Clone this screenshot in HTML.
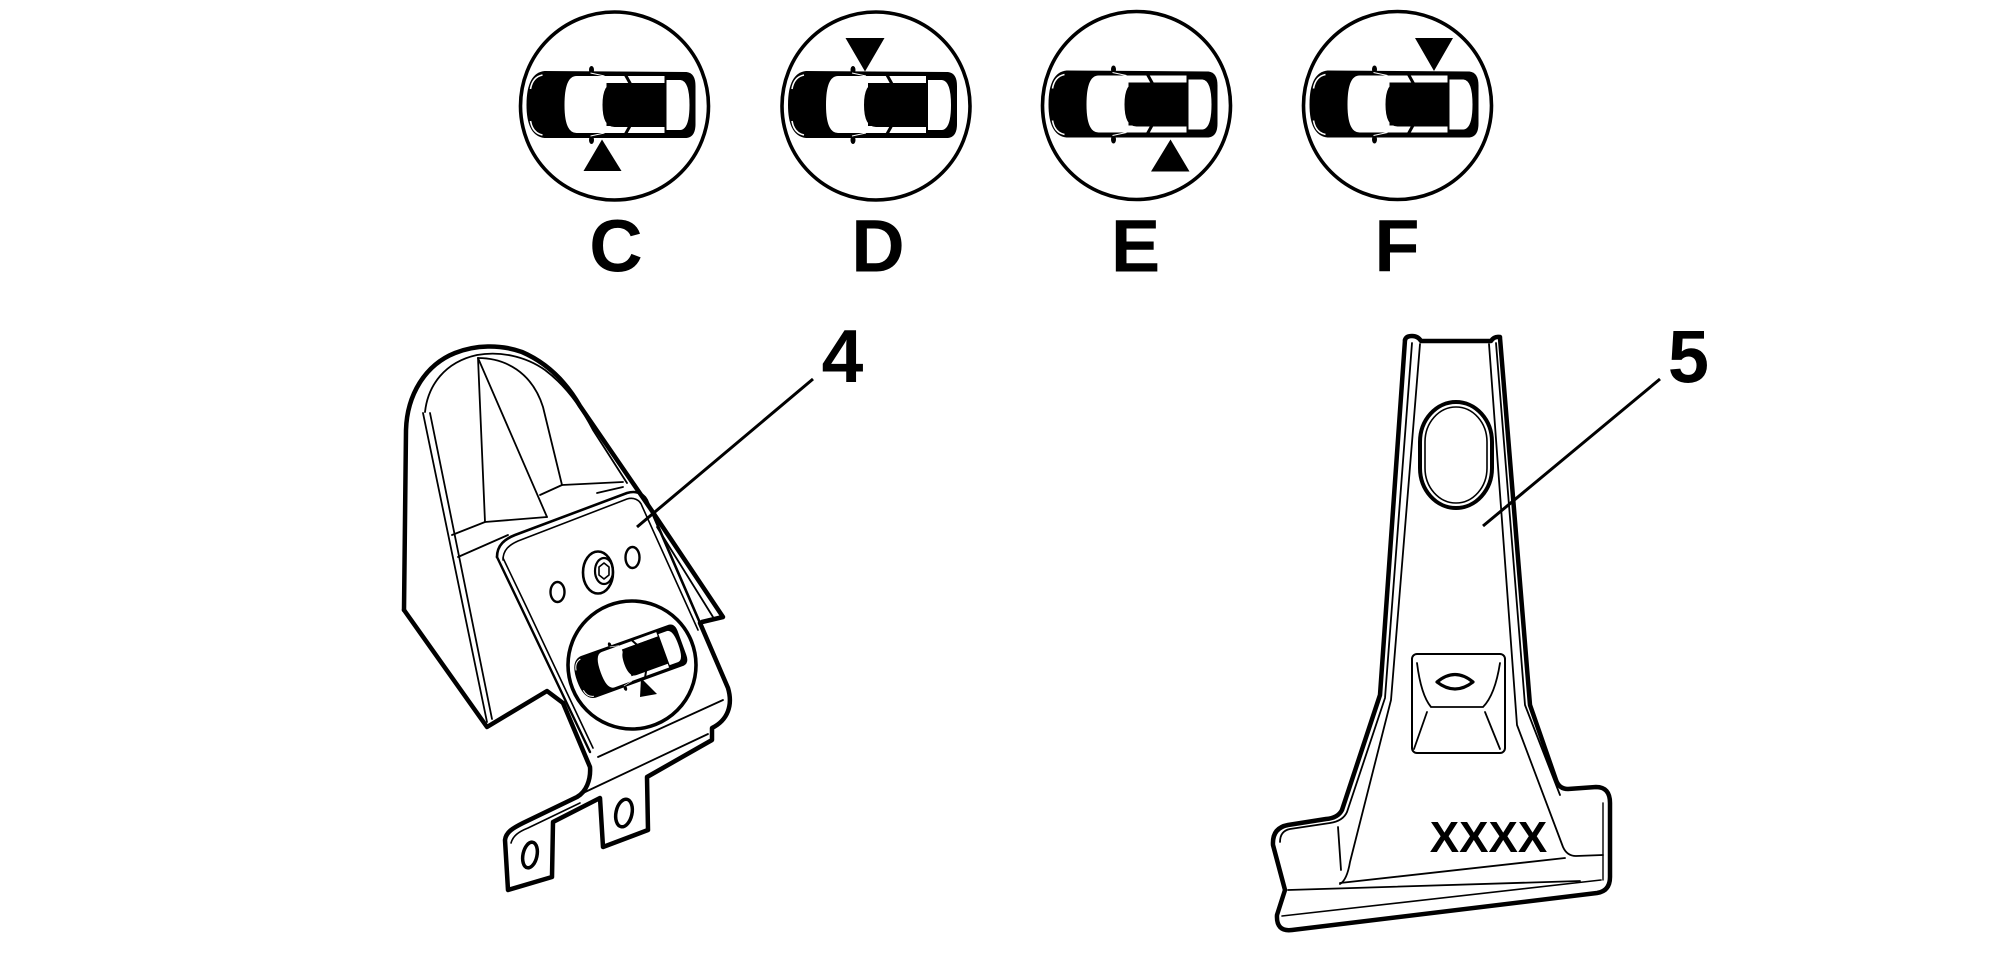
<!DOCTYPE html>
<html>
<head>
<meta charset="utf-8">
<style>
  html, body { margin:0; padding:0; background:#fff; }
  svg { display:block; }
  .lbl { font-family: "Liberation Sans", Arial, sans-serif; font-weight: bold; fill:#000; }
</style>
</head>
<body>
<svg width="2008" height="969" viewBox="0 0 2008 969" xmlns="http://www.w3.org/2000/svg">
  <rect x="0" y="0" width="2008" height="969" fill="#fff"/>
  <defs>
    <g id="car">
      <!-- body -->
      <path d="M -70,-35 L 72,-34 Q 81,-33 81,-20 L 81,18 Q 81,31 72,32 L -70,32 Q -88,30 -88,-1 Q -88,-33 -70,-35 Z" fill="#000"/>
      <!-- headlight highlights -->
      <path d="M -84,-17 Q -82,-29 -72,-31" fill="none" stroke="#fff" stroke-width="1.6"/>
      <path d="M -84,15 Q -82,27 -72,29" fill="none" stroke="#fff" stroke-width="1.6"/>
      <!-- windshield + side windows -->
      <path d="M -38,-30 L 50,-30 L 50,-23 L -8,-23 L -8,20 L 50,20 L 50,27 L -38,27 Q -50,27 -50,-1 Q -50,-30 -38,-30 Z" fill="#fff"/>
      <!-- roof -->
      <path d="M 0,-23 L 54,-23 L 54,21 L 0,21 Q -12,21 -12,-1 Q -12,-23 0,-23 Z" fill="#000"/>
      <!-- B pillars -->
      <path d="M 11,-31 L 16,-22" stroke="#000" stroke-width="3"/>
      <path d="M 11,28 L 16,19" stroke="#000" stroke-width="3"/>
      <!-- rear window -->
      <path d="M 52,-26 L 66,-26 Q 75,-25 75,-1 Q 75,23 66,24 L 52,24 Z" fill="#fff"/>
      <!-- mirrors -->
      <ellipse cx="-23" cy="-36" rx="2.5" ry="4" fill="#000"/>
      <ellipse cx="-23" cy="34" rx="2.5" ry="4" fill="#000"/>
      <path d="M -10,-30 L -24,-33" stroke="#fff" stroke-width="1"/>
      <path d="M -10,27 L -24,30" stroke="#fff" stroke-width="1"/>
    </g>
  </defs>

  <!-- ===== Top icons ===== -->
  <g fill="none" stroke="#000" stroke-width="3.6">
    <circle cx="614.5" cy="106" r="94"/>
    <circle cx="876" cy="106" r="94"/>
    <circle cx="1136.5" cy="105.5" r="94"/>
    <circle cx="1397.5" cy="105.5" r="94"/>
  </g>
  <use href="#car" transform="translate(614.5,106)"/>
  <use href="#car" transform="translate(876,106)"/>
  <use href="#car" transform="translate(1136.5,105.5)"/>
  <use href="#car" transform="translate(1397.5,105.5)"/>
  <!-- triangles -->
  <polygon points="602,139.5 583.5,171 621.5,171" fill="#000"/>
  <polygon points="845.5,38 884.5,38 865,71.5" fill="#000"/>
  <polygon points="1170.5,139.5 1151,171.5 1189.5,171.5" fill="#000"/>
  <polygon points="1415,38 1453,38 1434,71" fill="#000"/>

  <!-- letters -->
  <text class="lbl" x="616" y="271.5" font-size="74" text-anchor="middle">C</text>
  <text class="lbl" x="878" y="271.5" font-size="74" text-anchor="middle">D</text>
  <text class="lbl" x="1135.5" y="271.5" font-size="74" text-anchor="middle">E</text>
  <text class="lbl" x="1397" y="271.5" font-size="74" text-anchor="middle">F</text>

  <!-- ===== Part 4 ===== -->
  <g fill="none" stroke="#000" stroke-linejoin="round" stroke-linecap="round">
    <!-- shell silhouette -->
    <path d="M 404,610 L 406,430 C 407,395 425,365 455,353 C 475,345 500,344 522,352 C 545,362 565,380 580,406 L 650,508 L 723,617 L 702,622" stroke-width="4.5" fill="#fff"/>
    <path d="M 404,610 L 487,727 L 547,691 L 563,703" stroke-width="4.5"/>
    <!-- dome inner line -->
    <path d="M 425,412 C 428,385 445,362 477,355 C 500,351 525,356 545,370 C 565,385 580,405 593,430 L 627,483" stroke-width="1.8"/>
    <!-- left side double lines -->
    <path d="M 423,413 L 487,722" stroke-width="1.8"/>
    <path d="M 430,413 L 492,719" stroke-width="1.8"/>
    <!-- cavity lines -->
    <path d="M 478,358 C 505,358 532,372 543,407 L 562,485 L 623,482" stroke-width="1.8"/>
    <path d="M 478,358 L 485,522" stroke-width="1.8"/>
    <path d="M 478,358 L 547,517" stroke-width="1.8"/>
    <path d="M 452,535 L 485,522 L 547,517" stroke-width="1.8"/>
    <path d="M 540,495 L 562,485" stroke-width="1.8"/>
    <path d="M 458,557 L 508,535" stroke-width="1.8"/>
    <path d="M 597,493 L 623,487" stroke-width="1.8"/>
    <!-- shell right rim inner -->
    <path d="M 657,527 L 713,617" stroke-width="1.8"/>
    <!-- plate -->
    <path d="M 700,623 L 728,688 C 733,705 728,720 712,728 L 712,740 L 647,777 L 648,830 L 603,847 L 600,798 L 553,822 L 552,877 L 508,890 L 505,840 C 506,832 513,828 523,823 L 577,797 C 586,792 591,780 590,767 L 563,703" stroke-width="4.5" fill="#fff"/>
    <path d="M 497,557 C 497,545 505,539 515,535 L 627,493 C 637,490 645,494 648,503 L 700,623" stroke-width="2.6"/>
    <path d="M 503,560 C 503,550 509,545 518,541 L 627,499 C 634,497 640,500 642,506 L 698,630" stroke-width="1.6"/>
    <path d="M 497,557 L 520,605 L 590,752" stroke-width="2.4"/>
    <path d="M 503,558 L 526,606 L 593,748" stroke-width="1.6"/>
    <path d="M 598,757 L 723,700" stroke-width="1.8"/>
    <path d="M 583,793 L 708,734" stroke-width="1.8"/>
    <path d="M 511,843 C 513,836 518,832 528,828 L 580,803" stroke-width="1.6"/>
    <!-- holes -->
    <ellipse cx="598" cy="572.5" rx="15" ry="21" stroke-width="2.6"/>
    <ellipse cx="604" cy="571" rx="9" ry="13" stroke-width="2.2"/>
    <polygon points="604,563 609,567 609,575 604,579 599,575 599,567" stroke-width="1.6"/>
    <ellipse cx="557.5" cy="592" rx="7" ry="10" stroke-width="2.4"/>
    <ellipse cx="632.5" cy="557.5" rx="7" ry="10.5" stroke-width="2.4"/>
    <ellipse cx="530" cy="855" rx="7" ry="13" transform="rotate(12 530 855)" stroke-width="3.5"/>
    <ellipse cx="624" cy="813" rx="8" ry="14" transform="rotate(12 624 813)" stroke-width="3.5"/>
    <!-- emblem circle -->
    <circle cx="632" cy="665" r="64" stroke-width="3.6" fill="#fff"/>
  </g>
  <use href="#car" transform="translate(632,662) rotate(-20) scale(0.66)"/>
  <polygon points="641,678 657,694 640,697" fill="#000"/>
  <!-- leader 4 -->
  <line x1="813" y1="379" x2="637" y2="527" stroke="#000" stroke-width="3"/>
  <text class="lbl" x="842.5" y="382" font-size="75" text-anchor="middle">4</text>

  <!-- ===== Part 5 ===== -->
  <g fill="none" stroke="#000" stroke-linejoin="round" stroke-linecap="round">
    <path d="M 1405,340 L 1380,695 L 1342,810 Q 1338,818 1326,819 L 1288,825 Q 1272,828 1273,845 L 1285,890 L 1277,915 Q 1276,932 1292,930 L 1597,893 Q 1610,891 1610,877 L 1610,803 Q 1610,787 1596,787 L 1568,789 Q 1559,789 1556,780 L 1530,705 L 1500,338" stroke-width="4.5" fill="#fff"/>
    <path d="M 1405,340 Q 1406,336 1412,336 Q 1418,336 1421,341 L 1491,341 Q 1494,336 1500,337" stroke-width="4.5"/>
    <!-- inner long lines -->
    <path d="M 1412,343 L 1385,698 L 1347,812 Q 1343,821 1330,823 L 1290,829 Q 1280,831 1280,842" stroke-width="1.8"/>
    <path d="M 1420,344 L 1391,700 L 1350,862 Q 1347,880 1340,884" stroke-width="1.8"/>
    <path d="M 1338,827 L 1341,870" stroke-width="1.8"/>
    <path d="M 1489,344 L 1517,725 L 1563,847 Q 1567,856 1576,856 L 1603,855" stroke-width="1.8"/>
    <path d="M 1496,343 L 1525,705 L 1560,795" stroke-width="1.8"/>
    <!-- creases -->
    <path d="M 1340,883 L 1565,858" stroke-width="1.8"/>
    <path d="M 1288,890 L 1580,881" stroke-width="1.8"/>
    <path d="M 1282,916 L 1601,880" stroke-width="1.6"/>
    <path d="M 1603,803 L 1603,880" stroke-width="1.4"/>
    <!-- oval hole -->
    <rect x="1420" y="402" width="72" height="106" rx="36" ry="40" stroke-width="4"/>
    <rect x="1425" y="407" width="62" height="96" rx="31" ry="35" stroke-width="1.6"/>
    <!-- pad -->
    <rect x="1412" y="654" width="93" height="99" rx="5" stroke-width="2"/>
    <path d="M 1417,663 Q 1421,695 1431,707 L 1483,707 Q 1495,695 1500,663" stroke-width="1.8"/>
    <path d="M 1427,712 L 1414,749" stroke-width="1.8"/>
    <path d="M 1485,712 L 1500,749" stroke-width="1.8"/>
    <path d="M 1437,682 Q 1455,667 1473,682 Q 1455,696 1437,682 Z" stroke-width="3.2"/>
  </g>
  <!-- leader 5 -->
  <line x1="1660" y1="379" x2="1483" y2="526" stroke="#000" stroke-width="3"/>
  <text class="lbl" x="1688.5" y="382.5" font-size="74" text-anchor="middle">5</text>
  <text class="lbl" x="1488.5" y="852" font-size="44" text-anchor="middle">XXXX</text>
</svg>
</body>
</html>
